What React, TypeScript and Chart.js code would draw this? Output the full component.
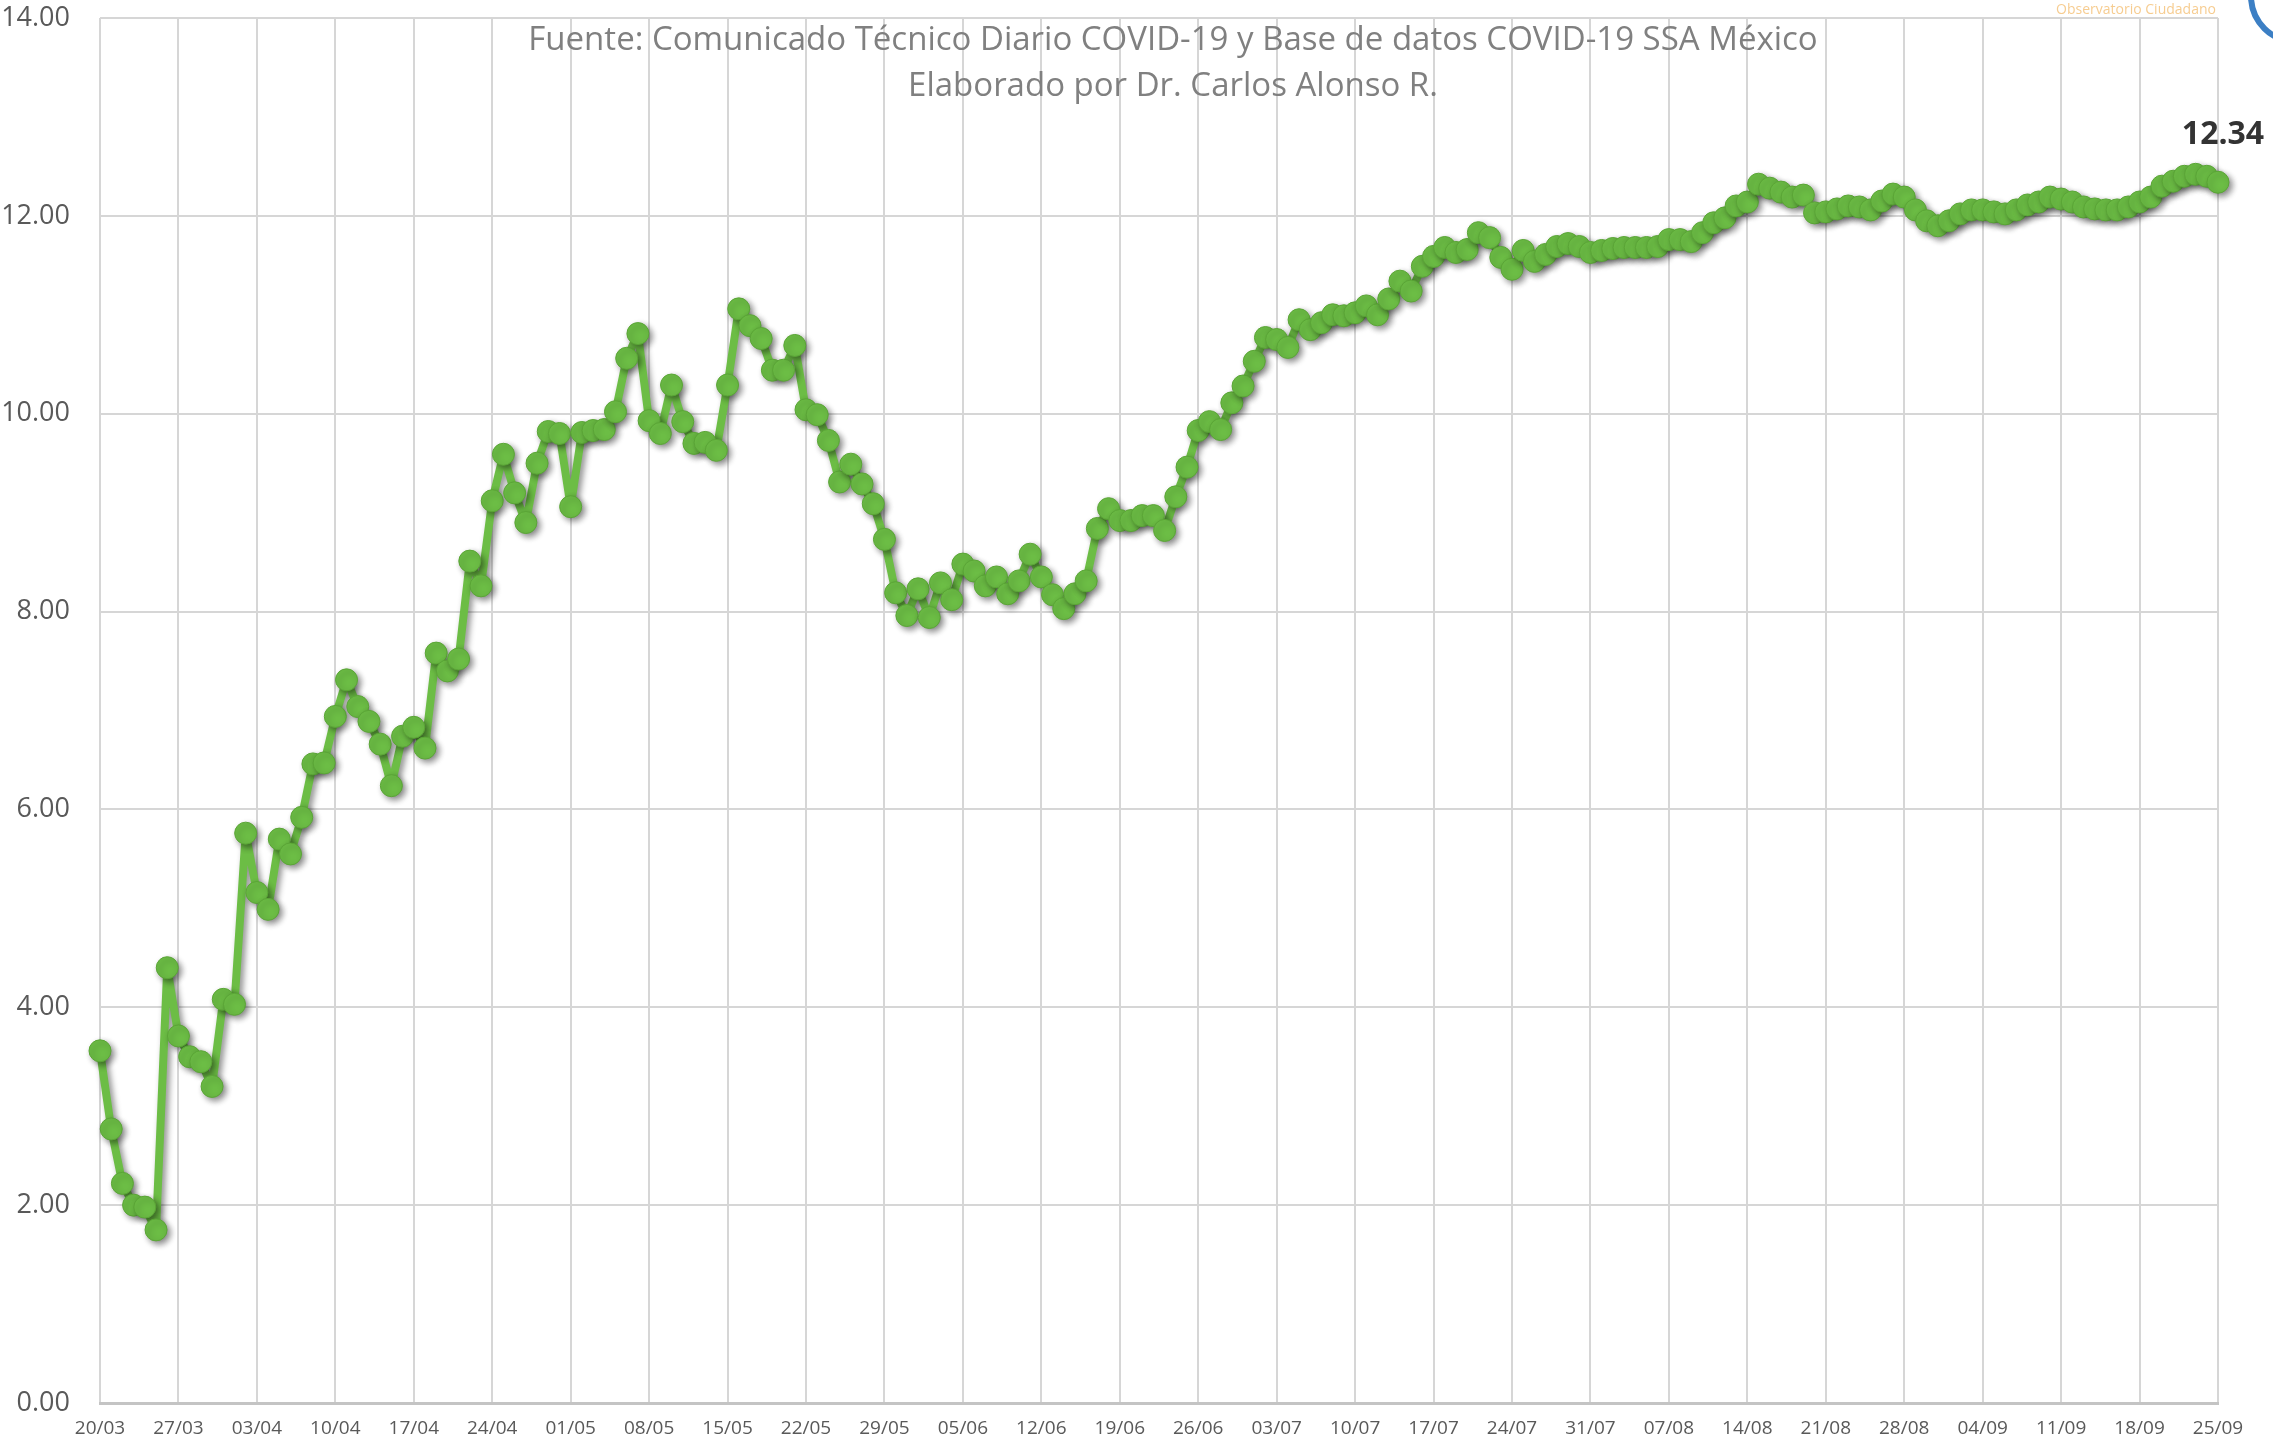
import React, { useEffect, useRef } from "react";
import { Chart, registerables } from "chart.js";

Chart.register(...registerables);

// Daily series, 20/03/2020 .. 25/09/2020
const startYear = 2020;
const startMonthIndex = 2; // March
const startDay = 20;

const values: number[] = [
  3.56, 2.77, 2.22, 2.0, 1.98, 1.75, 4.4, 3.71, 3.5, 3.45,
  3.2, 4.08, 4.03, 5.76, 5.16, 4.99, 5.7, 5.55, 5.92, 6.46,
  6.47, 6.94, 7.31, 7.04, 6.89, 6.66, 6.24, 6.74, 6.83, 6.62,
  7.58, 7.4, 7.52, 8.51, 8.26, 9.12, 9.59, 9.2, 8.9, 9.5,
  9.82, 9.8, 9.06, 9.81, 9.83, 9.84, 10.02, 10.56, 10.81, 9.93,
  9.8, 10.29, 9.92, 9.7, 9.71, 9.63, 10.29, 11.06, 10.89, 10.76,
  10.44, 10.44, 10.69, 10.04, 9.99, 9.73, 9.31, 9.49, 9.29, 9.09,
  8.73, 8.19, 7.96, 8.23, 7.94, 8.29, 8.12, 8.48, 8.41, 8.26,
  8.35, 8.18, 8.31, 8.58, 8.35, 8.17, 8.03, 8.18, 8.31, 8.84,
  9.04, 8.92, 8.92, 8.97, 8.97, 8.82, 9.16, 9.46, 9.83, 9.92,
  9.84, 10.11, 10.28, 10.53, 10.77, 10.75, 10.67, 10.95, 10.85, 10.92,
  11.0, 10.99, 11.02, 11.09, 11.0, 11.16, 11.34, 11.24, 11.49, 11.59,
  11.68, 11.63, 11.66, 11.83, 11.78, 11.58, 11.46, 11.65, 11.54, 11.61,
  11.69, 11.72, 11.69, 11.63, 11.65, 11.67, 11.68, 11.68, 11.68, 11.69,
  11.76, 11.76, 11.74, 11.83, 11.93, 11.98, 12.1, 12.14, 12.32, 12.28,
  12.24, 12.19, 12.21, 12.03, 12.04, 12.07, 12.1, 12.09, 12.06, 12.15,
  12.22, 12.19, 12.06, 11.95, 11.9, 11.95, 12.02, 12.06, 12.06, 12.04,
  12.02, 12.06, 12.11, 12.14, 12.19, 12.17, 12.14, 12.09, 12.07, 12.06,
  12.06, 12.09, 12.14, 12.19, 12.3, 12.35, 12.4, 12.42, 12.4, 12.34,
];

const pad2 = (n: number) => (n < 10 ? "0" + n : String(n));
const categories: string[] = values.map((_, i) => {
  const d = new Date(Date.UTC(startYear, startMonthIndex, startDay + i));
  return pad2(d.getUTCDate()) + "/" + pad2(d.getUTCMonth() + 1);
});

const tickEvery = 7;
const yMin = 0;
const yMax = 14;
const yStep = 2;

const titleLines = [
  "Fuente: Comunicado Técnico Diario COVID-19 y Base de datos COVID-19 SSA México",
  "Elaborado por Dr. Carlos Alonso R.",
];
const watermark = "Observatorio Ciudadano";

const GREEN = "#6cbd45";
const GREEN_DARK = "#5aa536";
const GRID = "#d6d6d6";
const FONT = '"Open Sans", "Noto Sans", sans-serif';

const shadowPlugin = {
  id: "shadowPlugin",
  beforeDatasetDraw(chart: any) {
    const c = chart.ctx;
    c.save();
    c.shadowColor = "rgba(0,0,0,0.45)";
    c.shadowBlur = 6;
    c.shadowOffsetX = 3;
    c.shadowOffsetY = 3;
  },
  afterDatasetDraw(chart: any) {
    chart.ctx.restore();
  },
};

const textPlugin = {
  id: "textPlugin",
  afterDraw(chart: any) {
    const c = chart.ctx;
    const area = chart.chartArea;
    const cx = (area.left + area.right) / 2 + 14;
    c.save();
    c.fillStyle = "#808080";
    c.textAlign = "center";
    c.textBaseline = "middle";
    c.font = "33px " + FONT;
    c.fillText(titleLines[0], cx, area.top + 23);
    c.fillText(titleLines[1], cx, area.top + 69);

    // watermark text top-right
    c.font = "14px " + FONT;
    c.fillStyle = "rgba(240,170,70,0.6)";
    c.fillText(watermark, area.right - 82, 10);

    // blue arc at top-right corner
    c.beginPath();
    c.strokeStyle = "#3c7fc4";
    c.lineWidth = 6;
    c.arc(chart.width + 24, -4, 46, Math.PI * 0.5, Math.PI * 1.0);
    c.stroke();

    // last value label
    const meta = chart.getDatasetMeta(0);
    const last = meta.data[meta.data.length - 1];
    const lastVal = values[values.length - 1];
    c.font = "bold 32px " + FONT;
    c.fillStyle = "#333333";
    c.fillText(lastVal.toFixed(2), last.x + 5, last.y - 47);
    c.restore();
  },
};

export default function App() {
  const ref = useRef<HTMLCanvasElement | null>(null);

  useEffect(() => {
    if (!ref.current) return;
    const chart = new Chart(ref.current, {
      type: "line",
      data: {
        labels: categories,
        datasets: [
          {
            data: values,
            borderColor: GREEN,
            borderWidth: 8,
            borderJoinStyle: "round",
            borderCapStyle: "round",
            pointRadius: 11,
            pointBackgroundColor: GREEN,
            pointBorderColor: GREEN_DARK,
            pointBorderWidth: 1,
            tension: 0,
            clip: false as any,
          },
        ],
      },
      options: {
        responsive: false,
        animation: false,
        devicePixelRatio: 1,
        layout: { padding: { top: 18, right: 55, bottom: 0, left: 0 } },
        plugins: {
          legend: { display: false },
          title: { display: false },
          tooltip: { enabled: false },
        },
        scales: {
          x: {
            type: "category",
            offset: false,
            afterFit: (scale: any) => {
              scale.height = 41;
              scale.paddingLeft = 0;
              scale.paddingRight = 0;
              scale.paddingTop = 0;
              scale.paddingBottom = 0;
            },
            grid: {
              drawTicks: false,
              lineWidth: 2,
              color: (ctx: any) => (ctx.index % tickEvery === 0 ? GRID : "rgba(0,0,0,0)"),
            },
            border: { display: true, color: "#c4c4c4", width: 3 },
            ticks: {
              autoSkip: false,
              maxRotation: 0,
              minRotation: 0,
              padding: 14,
              color: "#595959",
              font: { family: FONT, size: 19 },
              callback: (_v: any, i: number) => (i % tickEvery === 0 ? categories[i] : ""),
            },
          },
          y: {
            min: yMin,
            max: yMax,
            afterFit: (scale: any) => {
              scale.width = 100;
              scale.paddingLeft = 0;
              scale.paddingRight = 0;
              scale.paddingTop = 0;
              scale.paddingBottom = 0;
            },
            grid: { drawTicks: false, lineWidth: 2, color: GRID },
            border: { display: false },
            ticks: {
              stepSize: yStep,
              padding: 30,
              color: "#595959",
              font: { family: FONT, size: 27 },
              callback: (v: any) => Number(v).toFixed(2),
            },
          },
        },
      },
      plugins: [shadowPlugin, textPlugin],
    });
    return () => chart.destroy();
  }, []);

  return (
    <div style={{ position: "absolute", left: 0, top: 0, width: 2273, height: 1444, background: "#fff" }}>
      <canvas ref={ref} width={2273} height={1444} />
    </div>
  );
}
